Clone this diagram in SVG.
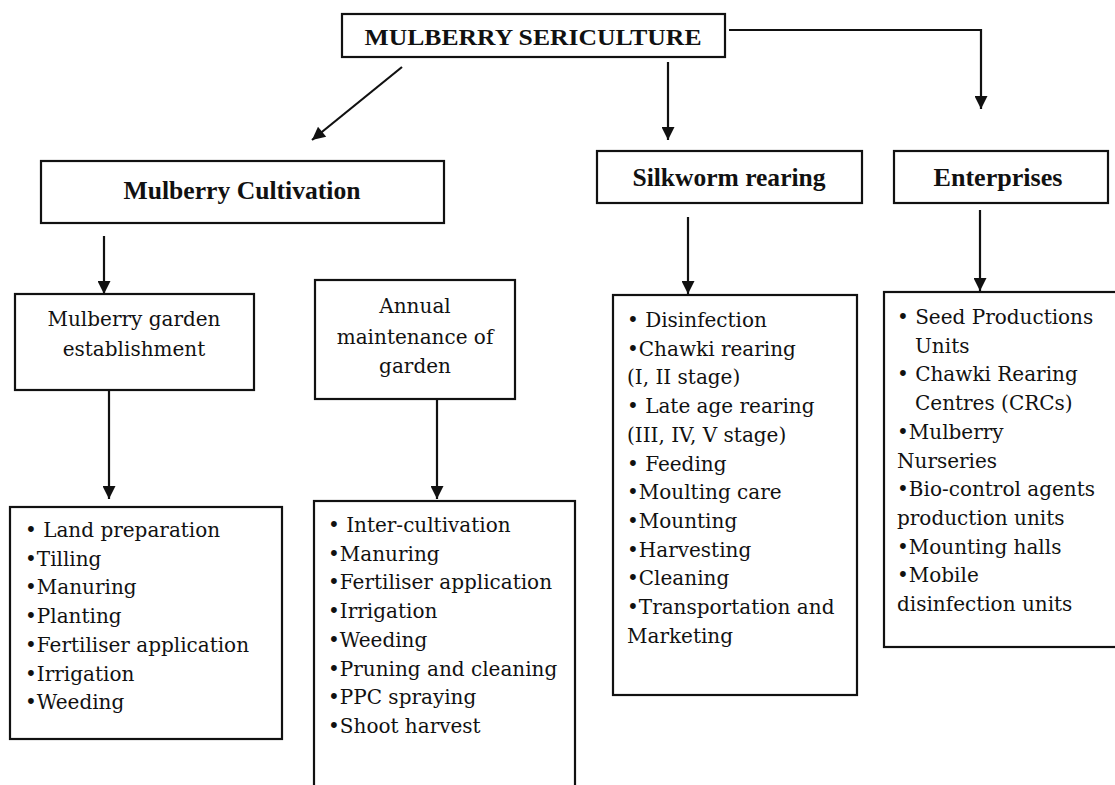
<svg xmlns="http://www.w3.org/2000/svg" width="1115" height="785" viewBox="0 0 1115 785">
<style>
.box{fill:#fff;stroke:#111;stroke-width:2.2}
.hd{font-family:"Liberation Serif","Times New Roman",serif;font-weight:bold;fill:#111;text-anchor:middle}
.tx{font-family:"DejaVu Serif","Liberation Serif",serif;font-size:20px;fill:#111}
.ctr{text-anchor:middle}
.cn{fill:none;stroke:#111;stroke-width:2.2}
</style>
<defs>
<marker id="ah" viewBox="0 0 10 10" refX="10" refY="5" markerWidth="15" markerHeight="13" markerUnits="userSpaceOnUse" orient="auto">
<path d="M0,0 L10,5 L0,10 z" fill="#111"/>
</marker>
</defs>
<rect width="1115" height="785" fill="#fff"/>
<g id="connectors">
<path class="cn" d="M729,30 H981 V109" marker-end="url(#ah)"/>
<line class="cn" x1="668" y1="62" x2="668" y2="140" marker-end="url(#ah)"/>
<line class="cn" x1="402" y1="67" x2="312" y2="140" marker-end="url(#ah)"/>
<line class="cn" x1="104" y1="236" x2="104" y2="294" marker-end="url(#ah)"/>
<line class="cn" x1="109" y1="390" x2="109" y2="499" marker-end="url(#ah)"/>
<line class="cn" x1="437" y1="399" x2="437" y2="499" marker-end="url(#ah)"/>
<line class="cn" x1="688" y1="217" x2="688" y2="294" marker-end="url(#ah)"/>
<line class="cn" x1="980" y1="210" x2="980" y2="291" marker-end="url(#ah)"/>
</g>
<g id="top">
<rect class="box" x="342" y="14" width="383" height="43"/>
<text class="hd" x="533" y="45" font-size="23" textLength="337" lengthAdjust="spacingAndGlyphs">MULBERRY SERICULTURE</text>
</g>
<g id="cultivation">
<rect class="box" x="41" y="161" width="403" height="62"/>
<text class="hd" x="242" y="199" font-size="25" textLength="237" lengthAdjust="spacingAndGlyphs">Mulberry Cultivation</text>
</g>
<g id="silkworm">
<rect class="box" x="597" y="151" width="265" height="52"/>
<text class="hd" x="729" y="186" font-size="25" textLength="193" lengthAdjust="spacingAndGlyphs">Silkworm rearing</text>
</g>
<g id="enterprises">
<rect class="box" x="894" y="151" width="214" height="52"/>
<text class="hd" x="998" y="186" font-size="25" textLength="129" lengthAdjust="spacingAndGlyphs">Enterprises</text>
</g>
<g id="establishment">
<rect class="box" x="15" y="294" width="239" height="96"/>
<text class="tx ctr" x="134" y="326">Mulberry garden</text>
<text class="tx ctr" x="134" y="356">establishment</text>
</g>
<g id="annual">
<rect class="box" x="315" y="280" width="200" height="119"/>
<text class="tx ctr" x="415" y="313">Annual</text>
<text class="tx ctr" x="415" y="344">maintenance of</text>
<text class="tx ctr" x="415" y="373">garden</text>
</g>
<g id="list-establishment">
<rect class="box" x="10" y="507" width="272" height="232"/>
<text class="tx" x="25" y="537">• Land preparation</text>
<text class="tx" x="25" y="565.7">•Tilling</text>
<text class="tx" x="25" y="594.4">•Manuring</text>
<text class="tx" x="25" y="623.1">•Planting</text>
<text class="tx" x="25" y="651.8">•Fertiliser application</text>
<text class="tx" x="25" y="680.5">•Irrigation</text>
<text class="tx" x="25" y="709.2">•Weeding</text>
</g>
<g id="list-annual">
<rect class="box" x="314" y="501" width="261" height="300"/>
<text class="tx" x="328" y="532">• Inter-cultivation</text>
<text class="tx" x="328" y="560.7">•Manuring</text>
<text class="tx" x="328" y="589.4">•Fertiliser application</text>
<text class="tx" x="328" y="618.1">•Irrigation</text>
<text class="tx" x="328" y="646.8">•Weeding</text>
<text class="tx" x="328" y="675.5">•Pruning and cleaning</text>
<text class="tx" x="328" y="704.2">•PPC spraying</text>
<text class="tx" x="328" y="732.9">•Shoot harvest</text>
</g>
<g id="list-silkworm">
<rect class="box" x="613" y="295" width="244" height="400"/>
<text class="tx" x="627" y="327">• Disinfection</text>
<text class="tx" x="627" y="355.7">•Chawki rearing</text>
<text class="tx" x="627" y="384.4">(I, II stage)</text>
<text class="tx" x="627" y="413.1">• Late age rearing</text>
<text class="tx" x="627" y="441.8">(III, IV, V stage)</text>
<text class="tx" x="627" y="470.5">• Feeding</text>
<text class="tx" x="627" y="499.2">•Moulting care</text>
<text class="tx" x="627" y="527.9">•Mounting</text>
<text class="tx" x="627" y="556.6">•Harvesting</text>
<text class="tx" x="627" y="585.3">•Cleaning</text>
<text class="tx" x="627" y="614">•Transportation and</text>
<text class="tx" x="627" y="642.7">Marketing</text>
</g>
<g id="list-enterprises">
<rect class="box" x="884" y="292" width="240" height="355"/>
<text class="tx" x="897" y="324">• Seed Productions</text>
<text class="tx" x="915" y="352.7">Units</text>
<text class="tx" x="897" y="381.4">• Chawki Rearing</text>
<text class="tx" x="915" y="410.1">Centres (CRCs)</text>
<text class="tx" x="897" y="438.8">•Mulberry</text>
<text class="tx" x="897" y="467.5">Nurseries</text>
<text class="tx" x="897" y="496.2">•Bio-control agents</text>
<text class="tx" x="897" y="524.9">production units</text>
<text class="tx" x="897" y="553.6">•Mounting halls</text>
<text class="tx" x="897" y="582.3">•Mobile</text>
<text class="tx" x="897" y="611">disinfection units</text>
</g>
</svg>
